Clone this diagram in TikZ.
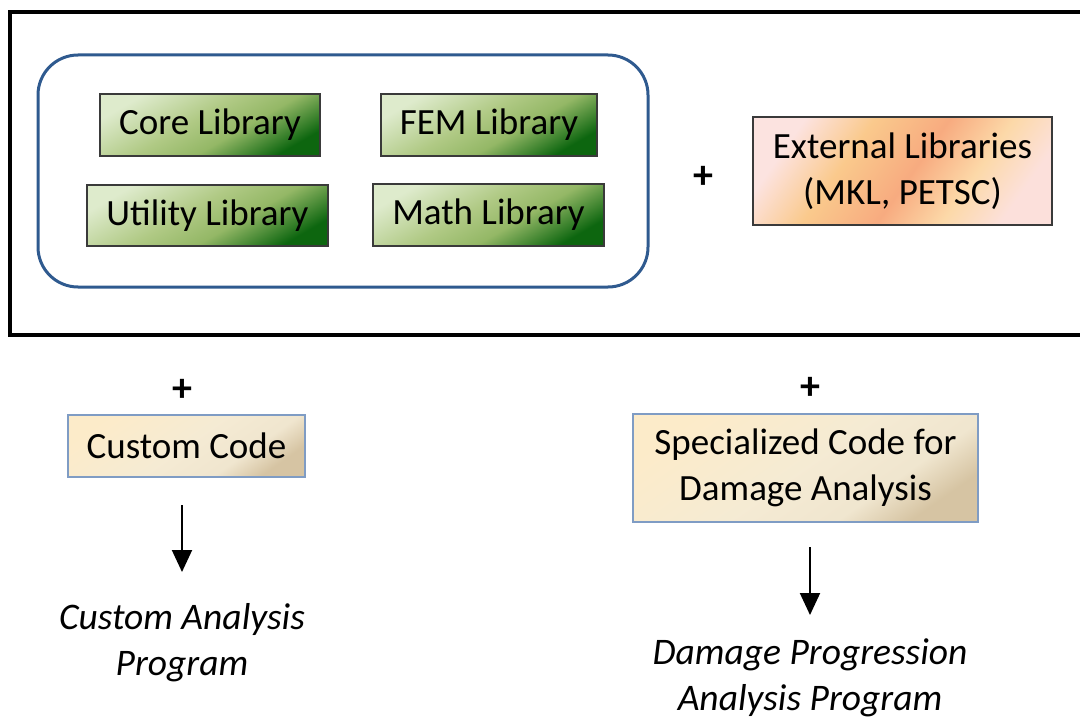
\documentclass[tikz,border=0pt]{standalone}
\usepackage{fontspec}
\setmainfont{Carlito}
\usetikzlibrary{arrows.meta}

\definecolor{libBorder}{HTML}{3A3A3A}
\definecolor{groupBlue}{HTML}{2F5A8F}
\definecolor{codeBorder}{HTML}{7F9CC4}

% diagonal fills of the boxes
\pgfdeclarehorizontalshading{libgreen}{100bp}{%
  rgb(0bp)=(0.87,0.92,0.80); rgb(25bp)=(0.87,0.92,0.80);
  rgb(45bp)=(0.69,0.79,0.52); rgb(58bp)=(0.58,0.72,0.40);
  rgb(75bp)=(0.05,0.40,0.06); rgb(100bp)=(0.05,0.40,0.06)}
\pgfdeclarehorizontalshading{extpeach}{100bp}{%
  rgb(0bp)=(0.99,0.89,0.88); rgb(25bp)=(0.99,0.89,0.88);
  rgb(38bp)=(0.98,0.79,0.55); rgb(52bp)=(0.97,0.67,0.50);
  rgb(64bp)=(0.99,0.85,0.66); rgb(75bp)=(0.99,0.88,0.86);
  rgb(100bp)=(0.99,0.88,0.86)}
\pgfdeclarehorizontalshading{codebeige}{100bp}{%
  rgb(0bp)=(0.99,0.92,0.79); rgb(25bp)=(0.99,0.92,0.79);
  rgb(50bp)=(0.96,0.92,0.83); rgb(65bp)=(0.94,0.90,0.81);
  rgb(75bp)=(0.84,0.77,0.64); rgb(100bp)=(0.84,0.77,0.64)}

\tikzset{
  txt/.style={font=\fontsize{37}{46}\selectfont, align=center, inner sep=0pt},
  libbox/.style={txt, draw=libBorder, line width=1.5pt, shading=libgreen, shading angle=-60},
  extbox/.style={txt, draw=libBorder, line width=1.5pt, shading=extpeach, shading angle=-35},
  codebox/.style={txt, draw=codeBorder, line width=1.8pt, shading=codebeige, shading angle=-55},
  plus/.style={font=\fontsize{40}{40}\selectfont\bfseries, inner sep=0pt},
  result/.style={font=\fontsize{37.5}{46}\selectfont\itshape, align=center, inner sep=0pt},
  flow/.style={line width=2pt, -{Triangle[width=20pt,length=22pt]}}
}

\begin{document}
\begin{tikzpicture}[x=1pt,y=-1pt]
\useasboundingbox (0,0) rectangle (1080,717);

% frame around the library stack, running off the right edge
\draw[line width=4pt] (1095,12) -- (10,12) -- (10,335) -- (1095,335);

% in-house libraries
\draw[groupBlue, line width=3pt, rounded corners=40pt] (38,55) rectangle (648,287);
\node[libbox, minimum width=220pt, minimum height=62pt] (core) at (210,125) {Core Library};
\node[libbox, minimum width=216pt, minimum height=62pt] (fem)  at (489,125) {FEM Library};
\node[libbox, minimum width=241pt, minimum height=61pt] (util) at (207.5,215.5) {Utility Library};
\node[libbox, minimum width=231pt, minimum height=62pt] (math) at (488.5,215) {Math Library};

\node[plus] (plusext) at (703,177) {+};
\node[extbox, minimum width=299pt, minimum height=108pt] (ext) at (902.5,171)
  {External Libraries\\(MKL, PETSC)};

% custom analysis branch
\node[plus] (plusA) at (182,390) {+};
\node[codebox, minimum width=237pt, minimum height=62pt] (custom) at (186.5,446) {Custom Code};
\coordinate (arrA) at (182,505);
\node[result] (progA) at (182,643) {Custom Analysis\\Program};
\draw[flow] (arrA) -- ++(0,67);

% damage analysis branch
\node[plus] (plusB) at (810,388) {+};
\node[codebox, minimum width=345pt, minimum height=108pt] (special) at (805.5,468)
  {Specialized Code for\\Damage Analysis};
\coordinate (arrB) at (810,547);
\node[result] (progB) at (810,678) {Damage Progression\\Analysis Program};
\draw[flow] (arrB) -- ++(0,68);
\end{tikzpicture}
\end{document}
